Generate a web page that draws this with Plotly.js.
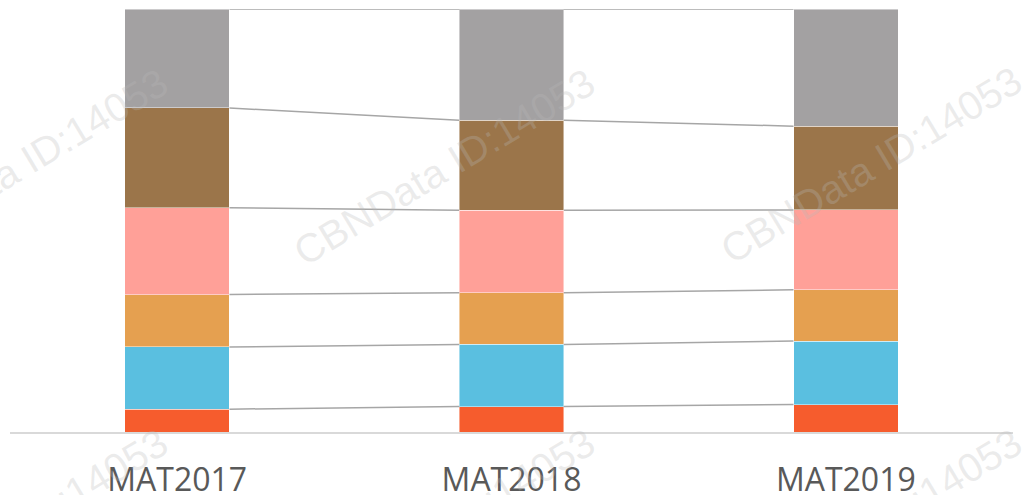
<!DOCTYPE html>
<html>
<head>
<meta charset="utf-8">
<script src="https://cdn.plot.ly/plotly-3.0.1.min.js"></script>
<style>html,body{margin:0;padding:0;background:#fff;}#chart{width:1025px;height:495px;}</style>
</head>
<body>
<div id="chart"></div>
<script>
// ---- data ----
const categories = ["MAT2017", "MAT2018", "MAT2019"];
const seriesRed    = [5.4, 6.0, 6.5];
const seriesBlue   = [14.7, 14.7, 15.0];
const seriesOrange = [12.4, 12.2, 12.1];
const seriesPink   = [20.5, 19.5, 18.9];
const seriesBrown  = [23.6, 21.3, 19.8];
const seriesGray   = [23.4, 26.3, 27.7];
const watermarkText = "CBNData ID:14053";

// ---- styles ----
const series = [seriesRed, seriesBlue, seriesOrange, seriesPink, seriesBrown, seriesGray];
const colors = ["#F65C2D", "#5ABFE0", "#E5A050", "#FFA098", "#9B754A", "#A3A1A2"];
const BAR_W = 0.313;
const xs = categories.map((c, i) => i);

const traces = [];
series.forEach((vals, k) => {
  traces.push({
    type: "bar", x: xs, y: vals, width: BAR_W,
    marker: {color: colors[k], line: {color: "rgba(255,255,255,0.45)", width: 1}},
    hoverinfo: "skip", showlegend: false
  });
});

// cumulative tops for connector lines
const cum = categories.map(() => 0);
series.forEach((vals) => {
  vals.forEach((v, i) => { cum[i] += v; });
  const lx = [], ly = [];
  for (let i = 0; i < categories.length - 1; i++) {
    if (i > 0) { lx.push(null); ly.push(null); }
    lx.push(i + BAR_W / 2, i + 1 - BAR_W / 2);
    ly.push(cum[i], cum[i + 1]);
  }
  traces.push({
    type: "scatter", mode: "lines", x: lx, y: ly.slice(),
    line: {color: "#A6A6A6", width: 1.5}, cliponaxis: false,
    hoverinfo: "skip", showlegend: false
  });
});

// watermarks (pixel centers converted to paper coords)
const L = 10, T = 9, PW = 1003, PH = 423;
const wmCenters = [[17,167],[444,167],[871,165],[17,527],[444,527],[871,527]];
const annotations = wmCenters.map(([px, py]) => ({
  text: watermarkText, xref: "paper", yref: "paper",
  x: (px - L) / PW, y: (T + PH - py) / PH,
  xanchor: "center", yanchor: "middle", showarrow: false,
  textangle: -31,
  font: {family: "Liberation Sans, Arial, sans-serif", size: 40, color: "rgba(185,185,185,0.28)"}
}));

const layout = {
  width: 1025, height: 495,
  margin: {l: L, r: 12, t: T, b: 63},
  paper_bgcolor: "#ffffff", plot_bgcolor: "#ffffff",
  barmode: "stack",
  showlegend: false,
  xaxis: {
    range: [-0.5, 2.5], tickvals: xs, ticktext: categories,
    showline: true, linecolor: "#D9D9D9", linewidth: 1.5,
    showgrid: false, zeroline: false, ticks: "",
    ticklabelstandoff: 19,
    tickfont: {family: "Open Sans, Noto Sans, sans-serif", size: 32, color: "#595959"},
    fixedrange: true
  },
  yaxis: {
    range: [0, 100], showgrid: false, zeroline: false, showline: false,
    showticklabels: false, ticks: "", fixedrange: true
  },
  annotations: annotations
};

Plotly.newPlot("chart", traces, layout, {displayModeBar: false, staticPlot: true});
</script>
</body>
</html>
